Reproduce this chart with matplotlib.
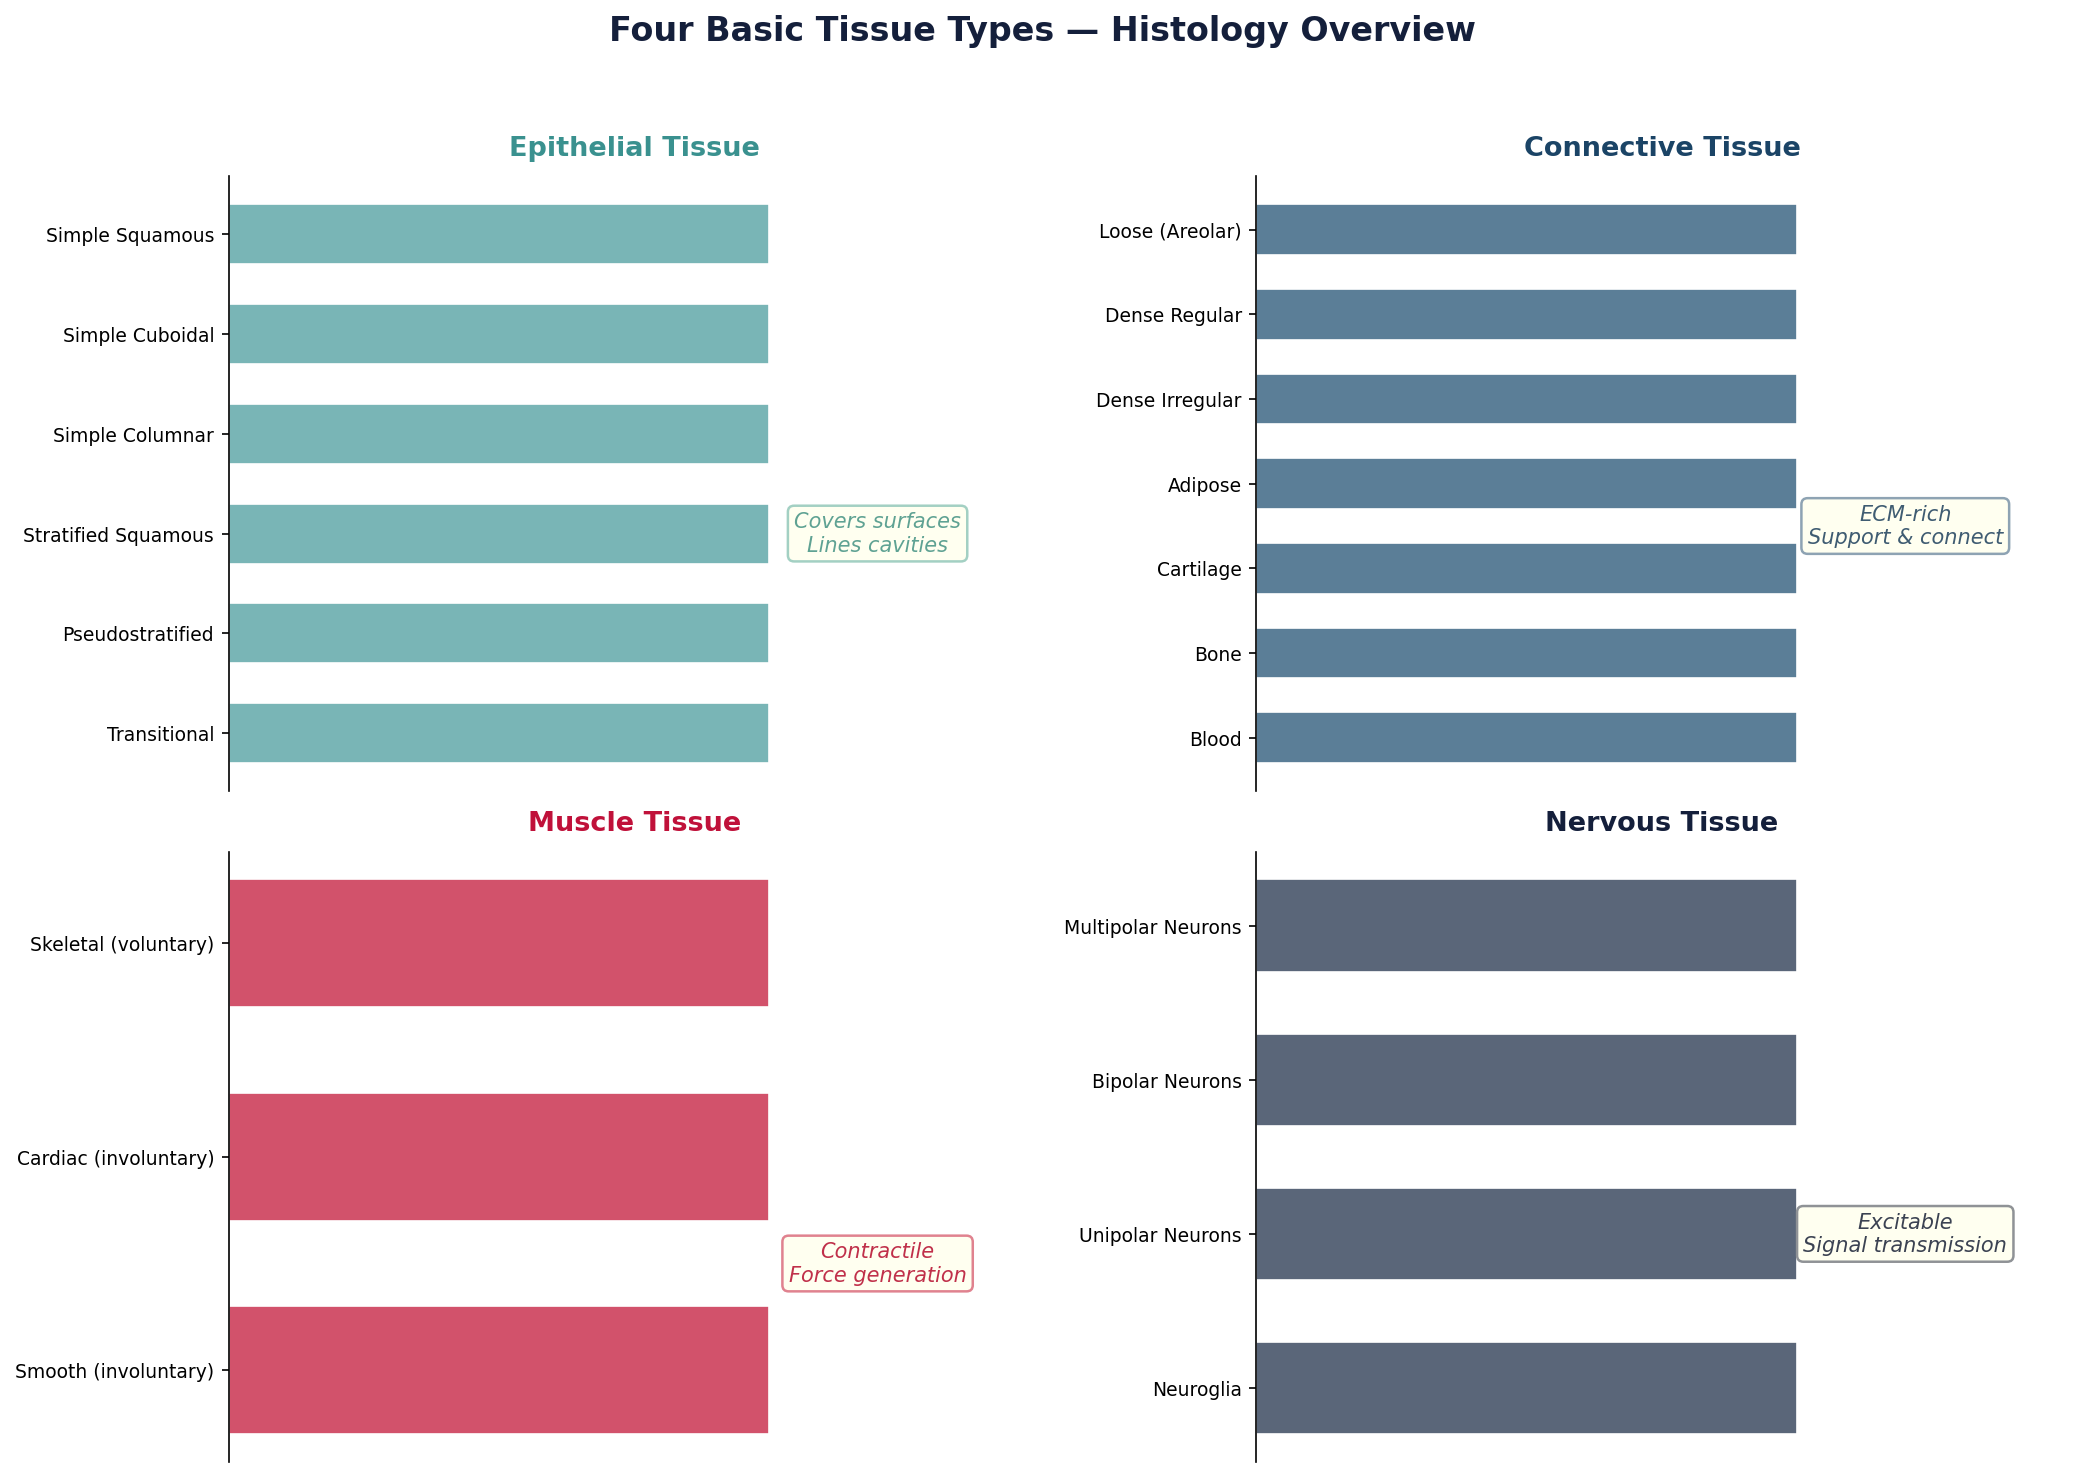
import matplotlib
matplotlib.use("Agg")
import matplotlib.pyplot as plt

# tissue categories (one list per panel)
epithelial = ["Simple Squamous", "Simple Cuboidal", "Simple Columnar",
              "Stratified Squamous", "Pseudostratified", "Transitional"]
connective = ["Loose (Areolar)", "Dense Regular", "Dense Irregular",
              "Adipose", "Cartilage", "Bone", "Blood"]
muscle = ["Skeletal (voluntary)", "Cardiac (involuntary)", "Smooth (involuntary)"]
nervous = ["Multipolar Neurons", "Bipolar Neurons", "Unipolar Neurons", "Neuroglia"]

titles = ["Epithelial Tissue", "Connective Tissue", "Muscle Tissue", "Nervous Tissue"]
notes = ["Covers surfaces\nLines cavities", "ECM-rich\nSupport & connect",
         "Contractile\nForce generation", "Excitable\nSignal transmission"]

# styling per panel
title_colors = ["#3a918f", "#1b4466", "#c0113a", "#141f3b"]
bar_colors = ["#79b5b6", "#5b7e97", "#d2526b", "#5a6679"]
note_colors = ["#5fa293", "#3f5c72", "#c0304a", "#3b4252"]
edge_colors = ["#a3d0c3", "#8ea3b3", "#e0828f", "#8f9296"]

fig = plt.figure(figsize=(13.9, 9.85), dpi=150)
fig.suptitle("Four Basic Tissue Types \u2014 Histology Overview",
             fontsize=16, fontweight="bold", color="#141f3b", y=0.99)

positions = [[0.1097, 0.4643, 0.389, 0.416],
             [0.6026, 0.4643, 0.389, 0.416],
             [0.1097, 0.0102, 0.389, 0.413],
             [0.6026, 0.0102, 0.389, 0.413]]
groups = [epithelial, connective, muscle, nervous]

for i, cats in enumerate(groups):
    ax = fig.add_axes(positions[i])
    ys = list(range(len(cats)))
    ax.barh(ys, [1] * len(cats), height=0.6, color=bar_colors[i],
            edgecolor="white", linewidth=0.8)
    ax.set_yticks(ys)
    ax.set_yticklabels(cats, fontsize=9)
    ax.invert_yaxis()
    ax.set_xlim(0, 1.5)
    ax.set_xticks([])
    for s in ["top", "right", "bottom"]:
        ax.spines[s].set_visible(False)
    ax.set_title(titles[i], fontsize=13, fontweight="bold", color=title_colors[i], pad=10)
    ax.text(1.2, len(cats) / 2, notes[i], ha="center", va="center",
            fontsize=10, style="italic", color=note_colors[i],
            bbox=dict(boxstyle="round,pad=0.3", facecolor="#fffff0",
                      edgecolor=edge_colors[i], linewidth=1.2))

fig.savefig("out.png", dpi=150)
